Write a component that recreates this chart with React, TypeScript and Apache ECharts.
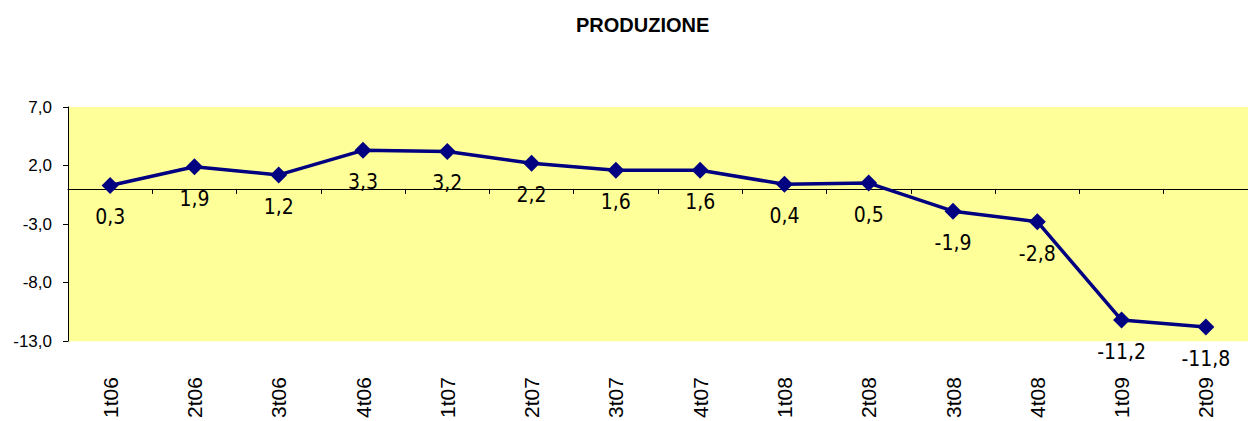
import React, { useEffect, useRef } from "react";
import * as echarts from "echarts";

const categories = ["1t06", "2t06", "3t06", "4t06", "1t07", "2t07", "3t07", "4t07", "1t08", "2t08", "3t08", "4t08", "1t09", "2t09"];
const values = [0.3, 1.9, 1.2, 3.3, 3.2, 2.2, 1.6, 1.6, 0.4, 0.5, -1.9, -2.8, -11.2, -11.8];
const yTicks = { min: -13, max: 7, interval: 5 };
const title = "PRODUZIONE";

const fmt = (v: number) => v.toFixed(1).replace(".", ",");
const SANS = "'Liberation Sans', Arial, sans-serif";
const NARROW = "'Liberation Sans Narrow', 'DejaVu Sans Condensed', sans-serif";

export default function App() {
  const ref = useRef<HTMLDivElement>(null);
  useEffect(() => {
    if (!ref.current) return;
    const chart = echarts.init(ref.current, undefined, { renderer: "svg" });
    chart.setOption({
      animation: false,
      backgroundColor: "#ffffff",
      title: {
        text: title,
        left: 571,
        top: 10,
        textStyle: { fontFamily: SANS, fontSize: 20, fontWeight: "bold", color: "#000" },
      },
      grid: {
        left: 68,
        top: 107,
        width: 1190,
        height: 236,
        show: true,
        backgroundColor: "#FFFF99",
        borderWidth: 0,
        containLabel: false,
      },
      xAxis: [
        {
          type: "category",
          data: categories,
          position: "bottom",
          axisLine: { show: true, onZero: true, lineStyle: { color: "#000", width: 1 } },
          axisTick: { show: true, interval: 0, length: 5, inside: false, lineStyle: { color: "#000" } },
          axisLabel: { show: false },
          splitLine: { show: false },
        },
        {
          type: "category",
          data: categories,
          position: "bottom",
          axisLine: { show: false, onZero: false },
          axisTick: { show: false },
          axisLabel: {
            show: true,
            interval: 0,
            rotate: 90,
            margin: 36,
            fontFamily: SANS,
            fontSize: 21,
            color: "#000",
          },
          splitLine: { show: false },
        },
      ],
      yAxis: {
        type: "value",
        min: yTicks.min,
        max: yTicks.max,
        interval: yTicks.interval,
        axisLine: { show: true, lineStyle: { color: "#000", width: 1 } },
        axisTick: { show: true, length: 5, lineStyle: { color: "#000" } },
        axisLabel: {
          formatter: (v: number) => fmt(v),
          margin: 16,
          fontFamily: SANS,
          fontSize: 17,
          color: "#000",
        },
        splitLine: { show: false },
      },
      series: [
        {
          type: "line",
          xAxisIndex: 0,
          data: values,
          symbol: "diamond",
          symbolSize: 17,
          lineStyle: { color: "#000080", width: 3.5 },
          itemStyle: { color: "#000080" },
          label: {
            show: true,
            position: "bottom",
            distance: 13,
            formatter: (p: any) => fmt(p.value),
            fontFamily: NARROW,
            fontSize: 21,
            color: "#000",
          },
        },
      ],
    });
    return () => chart.dispose();
  }, []);
  return <div ref={ref} style={{ position: "fixed", left: 0, top: 0, width: 1248, height: 421 }} />;
}
